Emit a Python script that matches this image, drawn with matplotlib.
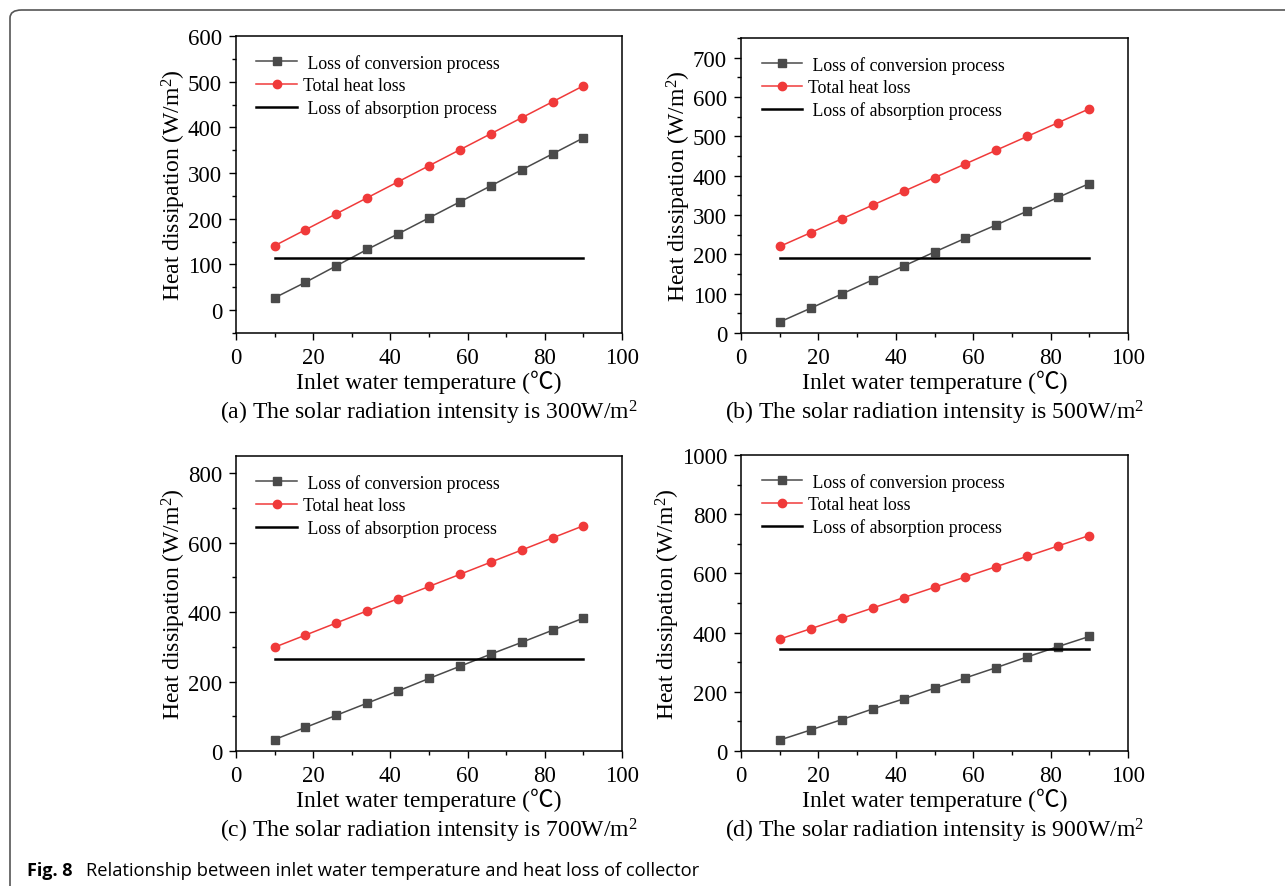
import matplotlib
matplotlib.use("Agg")
import matplotlib.pyplot as plt
from matplotlib.patches import FancyBboxPatch
from matplotlib.ticker import MultipleLocator

plt.rcParams['font.family'] = ['Liberation Serif', 'Noto Sans CJK SC']
plt.rcParams['mathtext.fontset'] = 'custom'
plt.rcParams['mathtext.rm'] = 'Liberation Serif'
plt.rcParams['mathtext.it'] = 'Liberation Serif:italic'

# inlet water temperature (°C)
temps = [10, 18, 26, 34, 42, 50, 58, 66, 74, 82, 90]

# (a) 300 W/m2
conv_300 = [27, 61, 97, 133, 167, 202, 237, 272, 307, 342, 377]
total_300 = [141, 176, 211, 246, 281, 316, 351, 386, 421, 456, 491]
absorb_300 = 114

# (b) 500 W/m2
conv_500 = [28, 63, 99, 135, 170, 206, 241, 275, 310, 345, 380]
total_500 = [220, 255, 290, 325, 360, 395, 430, 465, 500, 535, 570]
absorb_500 = 190

# (c) 700 W/m2
conv_700 = [33, 68, 103, 138, 173, 209, 244, 279, 313, 348, 383]
total_700 = [299, 334, 369, 404, 439, 474, 509, 544, 579, 614, 649]
absorb_700 = 266

# (d) 900 W/m2
conv_900 = [37, 71, 106, 142, 176, 212, 247, 282, 318, 353, 387]
total_900 = [378, 413, 448, 483, 518, 553, 588, 623, 658, 693, 728]
absorb_900 = 343

panels = [
    ("a", "300", conv_300, total_300, absorb_300, (-50, 600), 100),
    ("b", "500", conv_500, total_500, absorb_500, (0, 750), 100),
    ("c", "700", conv_700, total_700, absorb_700, (0, 850), 200),
    ("d", "900", conv_900, total_900, absorb_900, (0, 1000), 200),
]

W, H = 1285, 887
fig = plt.figure(figsize=(W / 100, H / 100), dpi=100)

# axes boxes in pixels: left, top, right, bottom
boxes = [(236, 37, 622, 334), (741, 39, 1128, 334),
         (236, 457, 622, 752), (741, 456, 1128, 752)]

# rounded frame around the figure
frame = FancyBboxPatch((10 / W, -0.05), 1.2, 1.05 - 11 / H,
                       boxstyle="round,pad=0,rounding_size=0.009",
                       transform=fig.transFigure, fill=False,
                       edgecolor='#555555', linewidth=1.2)
fig.patches.append(frame)

for (tag, intensity, conv, total, absorb, ylim, ystep), (l, t, r, b) in zip(panels, boxes):
    ax = fig.add_axes([l / W, 1 - b / H, (r - l) / W, (b - t) / H])
    ax.plot(temps, conv, color='#4a4a4a', lw=1.1, marker='s', ms=6,
            label=' Loss of conversion process')
    ax.plot(temps, total, color='#f03a3a', lw=1.1, marker='o', ms=6,
            label='Total heat loss')
    ax.plot([temps[0], temps[-1]], [absorb, absorb], color='black', lw=1.8,
            label=' Loss of absorption process')

    ax.set_xlim(0, 100)
    ax.set_ylim(*ylim)
    ax.xaxis.set_major_locator(MultipleLocator(20))
    ax.xaxis.set_minor_locator(MultipleLocator(10))
    ax.yaxis.set_major_locator(MultipleLocator(ystep))
    ax.yaxis.set_minor_locator(MultipleLocator(ystep / 2))
    ax.tick_params(which='both', direction='out', labelsize=16.5, width=1,
                   top=False, right=False)
    ax.tick_params(which='major', length=5, pad=5)
    ax.tick_params(which='minor', length=3)
    for s in ax.spines.values():
        s.set_linewidth(1.1)

    ax.set_xlabel('Inlet water temperature (\u2103)', fontsize=17, labelpad=1)
    ax.set_ylabel('Heat dissipation (W/m$^2$)', fontsize=17, labelpad=0)

    ax.legend(loc='upper left', bbox_to_anchor=(0.053, 0.94), frameon=False,
              fontsize=12.8, handlelength=2.3, handletextpad=0.3,
              labelspacing=0.3, borderpad=0, borderaxespad=0)

    fig.text((l + r) / 2 / W, 1 - (b + 79) / H,
             '(%s) The solar radiation intensity is %sW/m$^2$' % (tag, intensity),
             ha='center', va='center', fontsize=17)

fig.text(27 / W, 1 - 871 / H, 'Fig. 8', family='Open Sans', weight='bold',
         fontsize=13, va='center', ha='left')
fig.text(86 / W, 1 - 871 / H,
         'Relationship between inlet water temperature and heat loss of collector',
         family='Open Sans', fontsize=13.2, va='center', ha='left')

fig.savefig('out.png', dpi=100)
